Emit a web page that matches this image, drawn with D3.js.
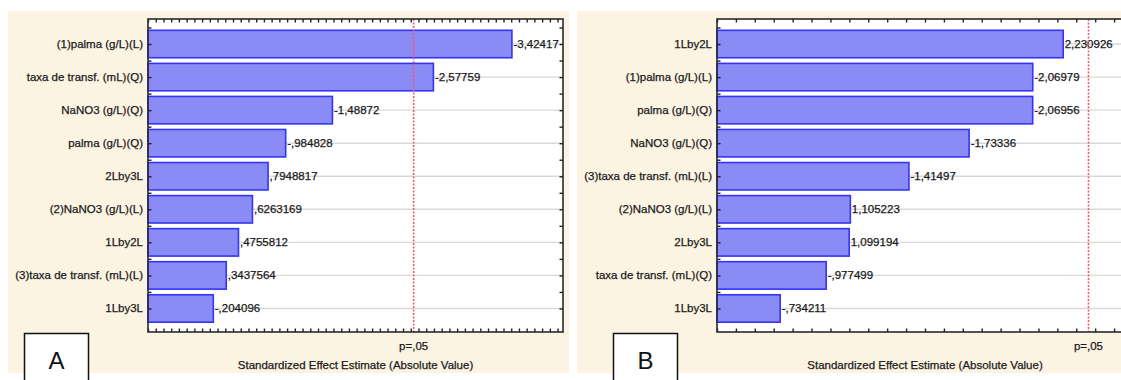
<!DOCTYPE html>
<html>
<head>
<meta charset="utf-8">
<script src="https://cdn.jsdelivr.net/npm/d3@7"></script>
<style>
  html, body { margin: 0; padding: 0; background: #ffffff; }
  svg { display: block; font-family: "Liberation Sans", Arial, sans-serif; }
</style>
</head>
<body>
<svg id="chart" width="1121" height="380"></svg>
<script>
// Pareto chart A: effects, in the order they are plotted (top to bottom)
const effectsA = [
  "(1)palma (g/L)(L)",
  "taxa de transf. (mL)(Q)",
  "NaNO3 (g/L)(Q)",
  "palma (g/L)(Q)",
  "2Lby3L",
  "(2)NaNO3 (g/L)(L)",
  "1Lby2L",
  "(3)taxa de transf. (mL)(L)",
  "1Lby3L"
];
const estimatesA = [-3.42417, -2.57759, -1.48872, -0.984828, 0.7948817, 0.6263169, 0.4755812, 0.3437564, -0.204096];

// Pareto chart B
const effectsB = [
  "1Lby2L",
  "(1)palma (g/L)(L)",
  "palma (g/L)(Q)",
  "NaNO3 (g/L)(Q)",
  "(3)taxa de transf. (mL)(L)",
  "(2)NaNO3 (g/L)(L)",
  "2Lby3L",
  "taxa de transf. (mL)(Q)",
  "1Lby3L"
];
const estimatesB = [2.230926, -2.06979, -2.06956, -1.73336, -1.41497, 1.105223, 1.099194, -0.977499, -0.734211];

// Critical t value drawn as the p = .05 reference line
const criticalT = 2.3646;
const pLabel = "p=,05";
const axisTitle = "Standardized Effect Estimate (Absolute Value)";
const panelLetters = ["A", "B"];

// STATISTICA-style number text: comma decimal, no leading zero
function fmt(v) {
  return String(v).replace(/^(-?)0\./, "$1.").replace(".", ",");
}

const svg = d3.select("#chart");
const FONT = 11.5;
const INK = "#1a1a1a";

function label(sel) {
  return sel.attr("font-size", FONT).attr("fill", INK)
    .attr("stroke", INK).attr("stroke-width", 0.25);
}

function drawPanel(opts) {
  const { effects, estimates, bg, plot, domain, tickStep, letter, letterBox } = opts;
  const g = svg.append("g");

  // cream panel background
  g.append("rect")
    .attr("x", bg.x).attr("y", bg.y).attr("width", bg.w).attr("height", bg.h)
    .attr("fill", "#fcf4e3");

  // white plot area
  g.append("rect")
    .attr("x", plot.x0).attr("y", plot.y0)
    .attr("width", plot.x1 - plot.x0).attr("height", plot.y1 - plot.y0)
    .attr("fill", "#ffffff");

  const x = d3.scaleLinear().domain(domain).range([plot.x0, plot.x1]);
  const y = d3.scaleBand().domain(effects)
    .range([plot.y0 + 8.5, plot.y1 - 7])
    .paddingInner(0.17).paddingOuter(0.085);

  const rows = effects.map((e, i) => ({ name: e, v: estimates[i] }));

  // horizontal grid lines at each effect
  g.append("g").selectAll("line").data(rows).join("line")
    .attr("x1", plot.x0).attr("x2", plot.x1)
    .attr("y1", d => y(d.name) + y.bandwidth() / 2)
    .attr("y2", d => y(d.name) + y.bandwidth() / 2)
    .attr("stroke", "#d9d9d9").attr("stroke-width", 1.4);

  // bars of absolute standardized effects
  g.append("g").selectAll("rect").data(rows).join("rect")
    .attr("x", plot.x0)
    .attr("y", d => y(d.name))
    .attr("width", d => x(Math.abs(d.v)) - plot.x0)
    .attr("height", y.bandwidth())
    .attr("fill", "#8b8bf6")
    .attr("stroke", "#3434fa")
    .attr("stroke-width", 1.6);

  // value labels at the end of each bar
  g.append("g").selectAll("text").data(rows).join("text")
    .attr("x", d => x(Math.abs(d.v)) + 1.5)
    .attr("y", d => y(d.name) + y.bandwidth() / 2)
    .attr("dy", "0.35em")
    .call(label)
    .text(d => fmt(d.v));

  // effect names on the left
  g.append("g").selectAll("text").data(rows).join("text")
    .attr("x", plot.x0 - 5)
    .attr("y", d => y(d.name) + y.bandwidth() / 2)
    .attr("dy", "0.35em")
    .attr("text-anchor", "end")
    .call(label)
    .text(d => d.name);

  // p = .05 dashed reference line
  g.append("line")
    .attr("x1", x(criticalT)).attr("x2", x(criticalT))
    .attr("y1", plot.y0).attr("y2", plot.y1)
    .attr("stroke", "#ef5b6b").attr("stroke-width", 1.6)
    .attr("stroke-dasharray", "2,1.5");

  // frame axes with inward ticks, no numeric labels
  const tickVals = d3.range(domain[0], domain[1] + 1e-9, tickStep);
  const bottom = d3.axisBottom(x).tickValues(tickVals).tickSize(-3.5).tickFormat("");
  const top = d3.axisTop(x).tickValues(tickVals).tickSize(-3.5).tickFormat("");
  const gb = g.append("g").attr("transform", `translate(0,${plot.y1})`).call(bottom);
  const gt = g.append("g").attr("transform", `translate(0,${plot.y0})`).call(top);

  const yTicks = [];
  effects.forEach(e => {
    yTicks.push(y(e) + y.bandwidth() / 2);
    yTicks.push(y(e) - y.step() * y.paddingInner() / 2);
  });
  const ys = d3.scaleLinear().domain([plot.y0, plot.y1]).range([plot.y0, plot.y1]);
  const left = d3.axisLeft(ys).tickValues(yTicks).tickSize(-3.5).tickFormat("");
  const right = d3.axisRight(ys).tickValues(yTicks).tickSize(-3.5).tickFormat("");
  const gl = g.append("g").attr("transform", `translate(${plot.x0},0)`).call(left);
  const gr = g.append("g").attr("transform", `translate(${plot.x1},0)`).call(right);
  [gb, gt, gl, gr].forEach(a => {
    a.select(".domain").remove();
    a.selectAll(".tick line").attr("stroke", "#222").attr("stroke-width", 1.4);
  });

  g.append("rect")
    .attr("x", plot.x0).attr("y", plot.y0)
    .attr("width", plot.x1 - plot.x0).attr("height", plot.y1 - plot.y0)
    .attr("fill", "none").attr("stroke", "#2a2a2a").attr("stroke-width", 1.6);

  // p label under the reference line and the axis title
  g.append("text")
    .attr("x", x(criticalT)).attr("y", plot.y1 + 18)
    .attr("text-anchor", "middle").call(label)
    .text(pLabel);
  g.append("text")
    .attr("x", (plot.x0 + plot.x1) / 2).attr("y", plot.y1 + 37)
    .attr("text-anchor", "middle").call(label)
    .text(axisTitle);

  // panel letter box
  g.append("rect")
    .attr("x", letterBox.x).attr("y", letterBox.y)
    .attr("width", letterBox.w).attr("height", letterBox.h)
    .attr("fill", "#ffffff").attr("stroke", "#111").attr("stroke-width", 1.5);
  g.append("text")
    .attr("x", letterBox.x + letterBox.w / 2).attr("y", letterBox.y + 35)
    .attr("text-anchor", "middle").attr("font-size", 24).attr("fill", "#111")
    .text(letter);
}

drawPanel({
  effects: effectsA, estimates: estimatesA,
  bg: { x: 8, y: 11, w: 561, h: 362 },
  plot: { x0: 148, x1: 563, y0: 19, y1: 332 },
  domain: [-0.5, 3.975], tickStep: 1 / 12,
  letter: panelLetters[0],
  letterBox: { x: 24.5, y: 333.5, w: 64, h: 50 }
});

drawPanel({
  effects: effectsB, estimates: estimatesB,
  bg: { x: 577, y: 11, w: 560, h: 362 },
  plot: { x0: 717, x1: 1133, y0: 19, y1: 332 },
  domain: [0.4, 2.6], tickStep: 0.1,
  letter: panelLetters[1],
  letterBox: { x: 613.5, y: 333.5, w: 64, h: 50 }
});
</script>
</body>
</html>
